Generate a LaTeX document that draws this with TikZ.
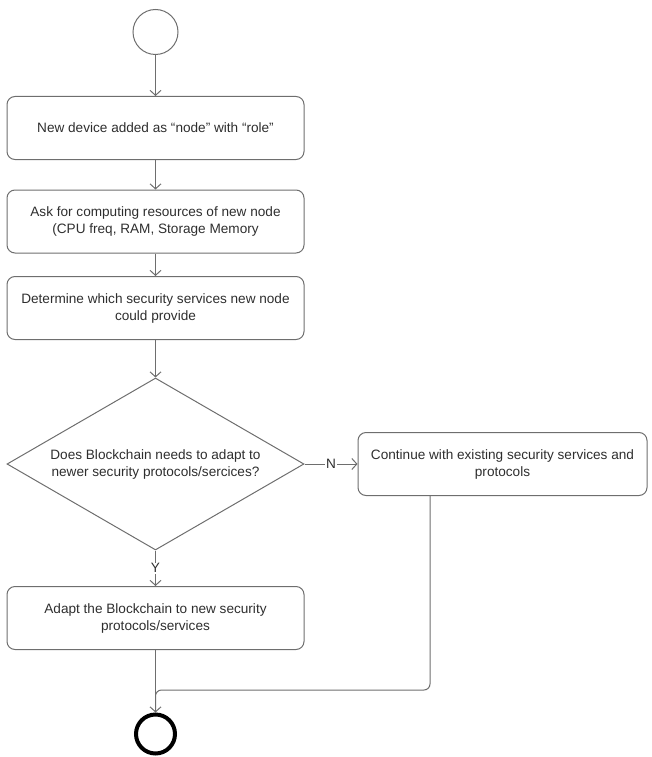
\documentclass[tikz,border=0pt]{standalone}
\usepackage{fontspec}
\setmainfont{Liberation Sans}
\usetikzlibrary{positioning,shapes.geometric,arrows.meta,calc}
\definecolor{linegray}{HTML}{6E6E6E}
\definecolor{textgray}{HTML}{2E2E2E}

\begin{document}
\begin{tikzpicture}[x=1pt,y=-1pt]
            \tikzset{
                activity/.style={draw=linegray, line width=1pt, rounded corners=8pt, minimum width=297pt, minimum height=63pt, inner sep=2pt, align=center, text=textgray, font=\fontsize{13.6}{17}\selectfont},
                decision/.style={diamond, aspect=1.7, draw=linegray, line width=1pt, minimum width=297pt, minimum height=172pt, inner sep=0pt, align=center, text=textgray, font=\fontsize{13.6}{17}\selectfont},
                flow/.style={draw=linegray, line width=1pt, -{Straight Barb[length=5pt,width=11pt]}},
                guard/.style={fill=white, inner sep=1pt, text=textgray, font=\fontsize{13.6}{17}\selectfont},}
            \useasboundingbox (0,0) rectangle (651,757);
            \node[circle, draw=linegray, line width=1pt, minimum size=45pt, inner sep=0pt] (start) at (155.5,32) {};
            \node[activity] (newdev) at (155.5,128) {New device added as “node” with “role”};
            \node[activity] (resources) at (155.5,221.5) {Ask for computing resources of new node\\(CPU freq, RAM, Storage Memory};
            \node[activity] (services) at (155.5,308) {Determine which security services new node\\could provide};
            \node[decision] (decide) at (155.5,464) {Does Blockchain needs to adapt to\\newer security protocols/sercices?};
            \node[activity, minimum width=289pt] (keep) at (502.5,464) {Continue with existing security services and\\protocols};
            \node[activity] (adaptbc) at (155.5,618) {Adapt the Blockchain to new security\\protocols/services};
            \node[circle, draw=black, line width=4pt, minimum size=39pt, inner sep=0pt] (stop) at (155.5,734) {};
            \coordinate (merge) at (155.5,690);
            \draw[flow] (start) -- (newdev);
            \draw[flow] (newdev) -- (resources);
            \draw[flow] (resources) -- (services);
            \draw[flow] (services) -- (decide);
            \draw[flow] (decide) -- node[guard] {N} (keep);
            \draw[flow] (decide) -- node[guard] {Y} (adaptbc);
            \draw[flow] (adaptbc) -- (stop);
            \draw[linegray, line width=1pt, rounded corners=6pt] ($(keep.south west)!0.25!(keep.south east)$) |- (merge) -- (stop.north);
        \end{tikzpicture}
\end{document}
